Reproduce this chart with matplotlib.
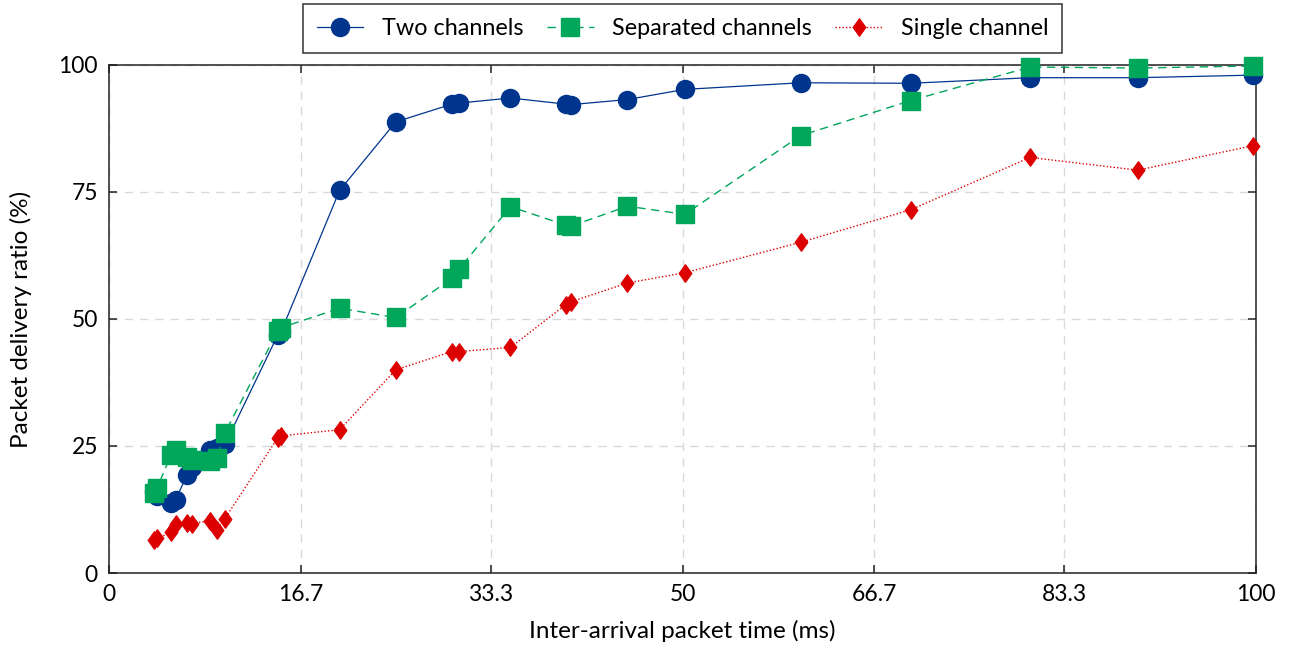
import matplotlib
matplotlib.use("Agg")
import matplotlib.pyplot as plt
from matplotlib.path import Path

plt.rcParams['font.family'] = ['Lato', 'DejaVu Sans']

x = [3.9, 4.2, 5.4, 5.8, 6.8, 7.2, 8.8, 9.4, 10.1, 14.7, 15.0, 20.1, 25.0, 29.9, 30.5,
     35.0, 39.8, 40.3, 45.2, 50.2, 60.3, 69.9, 80.3, 89.7, 99.7]
two_channels = [16.0, 15.2, 13.8, 14.4, 19.3, 20.8, 24.2, 24.6, 25.3, 46.8, 47.5, 75.3, 88.8,
                92.3, 92.5, 93.5, 92.3, 92.2, 93.2, 95.2, 96.5, 96.4, 97.5, 97.5, 98.0]
separated = [15.7, 16.8, 23.2, 24.3, 22.8, 22.3, 22.1, 22.6, 27.6, 47.6, 48.3, 52.1, 50.3,
             58.0, 59.8, 72.1, 68.5, 68.3, 72.2, 70.6, 86.1, 93.0, 99.6, 99.4, 99.8]
single = [6.5, 6.8, 8.0, 9.7, 9.8, 9.7, 10.3, 8.5, 10.7, 26.6, 27.0, 28.2, 40.0,
          43.6, 43.6, 44.4, 52.8, 53.4, 57.1, 59.1, 65.1, 71.5, 81.8, 79.3, 84.1]

xticks = [0, 16.7, 33.3, 50, 66.7, 83.3, 100]
xticklabels = ["0", "16.7", "33.3", "50", "66.7", "83.3", "100"]
yticks = [0, 25, 50, 75, 100]

blue = "#00358E"
green = "#00A65A"
red = "#DD0000"

diamond = Path([(-0.72, 0), (0, 1), (0.72, 0), (0, -1), (-0.72, 0)],
               [Path.MOVETO, Path.LINETO, Path.LINETO, Path.LINETO, Path.CLOSEPOLY])

fig = plt.figure(figsize=(12.89, 6.46), dpi=100)
ax = fig.add_axes([0.0846, 0.113, 0.8898, 0.7864])

ax.plot(x, two_channels, color=blue, lw=0.9, ls='-', marker='o', ms=13,
        mec=blue, mfc=blue, label="Two channels", clip_on=False, zorder=3)
ax.plot(x, separated, color=green, lw=1.0, ls=(0, (6, 4)), marker='s', ms=12.5,
        mec=green, mfc=green, label="Separated channels", clip_on=False, zorder=4)
ax.plot(x, single, color=red, lw=1.0, ls=(0, (1, 1.5)), marker=diamond, ms=12.5,
        mec=red, mfc=red, label="Single channel", clip_on=False, zorder=5)

ax.set_xlim(0, 100)
ax.set_ylim(0, 100)
ax.set_xticks(xticks)
ax.set_xticklabels(xticklabels)
ax.set_yticks(yticks)
ax.tick_params(direction='in', length=6, width=1.1, top=True, right=True,
               labelsize=16.5, color='#222222', pad=8)
ax.grid(True, color='#d9d9d9', ls=(0, (6, 5)), lw=1.0, zorder=0)
ax.set_axisbelow(True)
for s in ax.spines.values():
    s.set_color('#222222')
    s.set_linewidth(1.1)

ax.set_xlabel("Inter-arrival packet time (ms)", fontsize=17.5, labelpad=11)
ax.set_ylabel("Packet delivery ratio (%)", fontsize=17.5, labelpad=19)

leg = ax.legend(loc='lower center', bbox_to_anchor=(0.5, 1.024), ncol=3, fontsize=16.8,
                frameon=True, fancybox=False, edgecolor='#333333', framealpha=1,
                handlelength=2.0, columnspacing=1.0, handletextpad=0.8,
                borderpad=0.6, borderaxespad=0)
leg.get_frame().set_linewidth(1.1)

fig.savefig("out.png", dpi=100)
